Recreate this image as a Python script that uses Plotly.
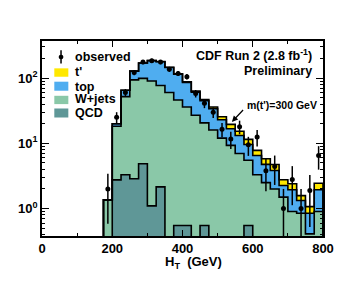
import numpy as np
import plotly.graph_objects as go

# ---- data ----
bin_edges = np.arange(175, 801, 25)          # 25 bins of 25 GeV, 175..800
bin_centers = bin_edges[:-1] + 12.5

qcd = [0, 2.75, 3.3, 2.86, 4.87, 1.1, 2.15, 0, 0.55, 0.55, 0, 0.55, 0,
       0, 0, 0, 0.55, 0, 0, 0, 0, 0, 0, 0, 0]
wjets = [1.36, 15.5, 48.7, 91, 94, 89, 75, 60, 45.5, 35.5, 27, 20, 16,
         12, 9.3, 7, 4.95, 3.3, 2.5, 2.0, 1.5, 0.9, 0.85, 0.41, 0.9]
top = [0, 1.7, 13, 34, 71, 95, 101, 85, 69, 50, 34, 24.5, 18,
       11, 7.4, 6.2, 4.1, 3.2, 2.25, 1.84, 0.76, 1.04, 0.48, 0.44, 1.04]
tprime = [0, 0, 0.1, 0.3, 0.5, 0.8, 1, 1.2, 1.5, 1.8, 2, 2, 2,
          2.5, 2.8, 2.1, 1.9, 1.3, 1.05, 0.9, 0.5, 0.46, 0.25, 0.22, 0.51]
observed = [2, 25, 60, 122, 176, 184, 176, 136, 118, 105, 58, 41, 30,
            16.5, 11.6, 18, 9.5, 12.5, 3.8, 4.4, 1, 2.8, 1, 1.9, 6.5]

x_tick_vals = [0, 200, 400, 600, 800]
y_tick_vals = [1, 10, 100]
y_tick_text = ["10<sup>0</sup>", "10<sup>1</sup>", "10<sup>2</sup>"]

# ---- styling ----
C_TP = "#ffe800"
C_TOP = "#4fadf0"
C_W = "#8ac8a8"
C_QCD = "#5f9797"
FONT = "Liberation Sans"

qcd_a = np.array(qcd, float)
cum_w = qcd_a + np.array(wjets, float)
cum_top = cum_w + np.array(top, float)
cum_tp = cum_top + np.array(tprime, float)
obs = np.array(observed, float)
err_up = np.sqrt(obs)
err_dn = np.minimum(np.sqrt(obs), 0.999 * obs)

fig = go.Figure()

for vals, col in [(cum_tp, C_TP), (cum_top, C_TOP), (cum_w, C_W), (qcd_a, C_QCD)]:
    fig.add_trace(go.Bar(x=bin_centers, y=vals, width=25, marker_color=col,
                         marker_line_width=0, showlegend=False, hoverinfo="skip"))

floor = 1e-3
for vals in [cum_tp, cum_top, cum_w, qcd_a]:
    v = np.where(vals > 0, vals, floor)
    xs = np.concatenate([[bin_edges[0]], bin_edges[:-1], [bin_edges[-1], bin_edges[-1]]])
    ys = np.concatenate([[floor], v, [v[-1], floor]])
    fig.add_trace(go.Scatter(x=xs, y=ys, mode="lines", line_shape="hv",
                             line=dict(color="black", width=1.6),
                             showlegend=False, hoverinfo="skip"))

fig.add_trace(go.Scatter(x=bin_centers, y=obs, mode="markers",
                         marker=dict(color="black", size=5),
                         error_y=dict(type="data", array=err_up, arrayminus=err_dn,
                                      thickness=1.5, width=0, color="black"),
                         showlegend=False))

# ---- manual legend (decoration) ----
legend_rows = [("t'", C_TP, 0.8598, 0.8167, 0.8408),
               ("top", C_TOP, 0.7913, 0.7450, 0.7653),
               ("W+jets", C_W, 0.7190, 0.6764, 0.7005),
               ("QCD", C_QCD, 0.6539, 0.6077, 0.6287)]
shapes = []
annotations = []
for name, col, y0, y1, yt in legend_rows:
    shapes.append(dict(type="rect", xref="paper", yref="paper", x0=0.0438, x1=0.0937,
                       y0=y1, y1=y0, fillcolor=col, line=dict(width=0)))
    annotations.append(dict(text=name, xref="paper", yref="paper", x=0.1104, y=yt,
                            xanchor="left", yanchor="middle", showarrow=False,
                            font=dict(family=FONT, size=12.5, color="black", weight="bold")))
# observed legend symbol
shapes.append(dict(type="line", xref="paper", yref="paper", x0=0.0677, x1=0.0677,
                   y0=0.885, y1=0.952, line=dict(color="black", width=1.5)))
shapes.append(dict(type="circle", xref="paper", yref="paper", x0=0.0677 - 0.0085,
                   x1=0.0677 + 0.0085, y0=0.9178 - 0.012, y1=0.9178 + 0.012,
                   fillcolor="black", line=dict(width=0)))
annotations.append(dict(text="observed", xref="paper", yref="paper", x=0.1104, y=0.9178,
                        xanchor="left", yanchor="middle", showarrow=False,
                        font=dict(family=FONT, size=12.5, color="black", weight="bold")))

annotations += [
    dict(text="CDF Run 2 (2.8 fb<sup>-1</sup>)", xref="paper", yref="paper",
         x=0.968, y=0.928, xanchor="right", yanchor="middle", showarrow=False,
         font=dict(family=FONT, size=12.5, color="black", weight="bold")),
    dict(text="Preliminary", xref="paper", yref="paper",
         x=0.968, y=0.847, xanchor="right", yanchor="middle", showarrow=False,
         font=dict(family=FONT, size=12.5, color="black", weight="bold")),
    dict(text="m(t')=300 GeV", xref="paper", yref="paper",
         x=0.723, y=0.671, xanchor="left", yanchor="middle", showarrow=False,
         font=dict(family=FONT, size=10.5, color="black", weight="bold")),
    dict(text="", x=540.6, y=np.log10(21.3), xref="x", yref="y",
         ax=12.6, ay=-13.4, showarrow=True, arrowhead=2, arrowsize=1,
         arrowwidth=1.2, arrowcolor="black"),
    dict(text="H<sub>T</sub>  (GeV)", xref="paper", yref="paper",
         x=0.538, y=-0.135, xanchor="center", yanchor="middle", showarrow=False,
         font=dict(family=FONT, size=13, color="black", weight="bold")),
]

y_minor = [k * 0.1 for k in range(4, 10)] + list(range(2, 10)) + \
          [k * 10 for k in range(2, 10)] + [200, 300]

fig.update_layout(
    width=354, height=291,
    margin=dict(l=42, r=31, t=41, b=55, autoexpand=False),
    plot_bgcolor="white", paper_bgcolor="white",
    barmode="overlay", bargap=0, showlegend=False,
    shapes=shapes, annotations=annotations,
    xaxis=dict(range=[0, 800], tickvals=x_tick_vals, ticks="inside", ticklen=6,
               tickwidth=1.2, tickcolor="black", showline=True, linecolor="black",
               linewidth=1.5, mirror="ticks", showgrid=False, zeroline=False,
               automargin=False,
               tickfont=dict(family=FONT, size=13, color="black", weight="bold"),
               minor=dict(ticks="inside", ticklen=3, dtick=100, tick0=0,
                          tickcolor="black", showgrid=False)),
    yaxis=dict(type="log", range=[np.log10(0.38), np.log10(370)],
               tickvals=y_tick_vals, ticktext=y_tick_text, ticks="inside", ticklen=7,
               tickwidth=1.2, tickcolor="black", showline=True, linecolor="black",
               linewidth=1.5, mirror="ticks", showgrid=False, zeroline=False,
               automargin=False,
               tickfont=dict(family=FONT, size=13, color="black", weight="bold"),
               minor=dict(ticks="inside", ticklen=3, tickvals=y_minor,
                          tickcolor="black", showgrid=False)),
)

fig.write_html("out.html", config={"displayModeBar": False},
               post_script="document.body.style.margin='0';document.body.style.padding='0';")
